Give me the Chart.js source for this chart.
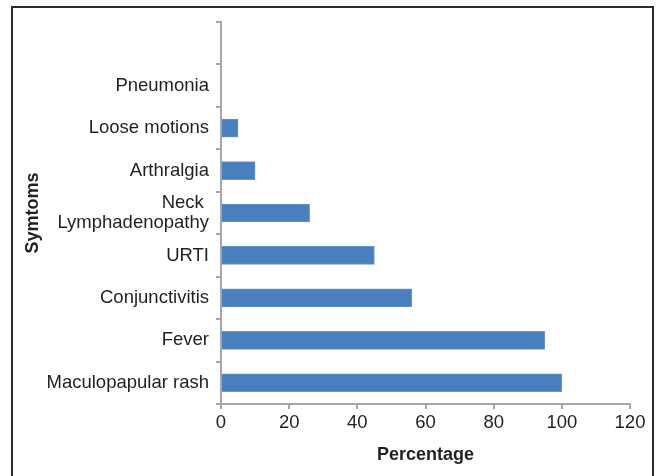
<!DOCTYPE html>
<html>
<head>
<meta charset="utf-8">
<script src="https://cdn.jsdelivr.net/npm/chart.js@4"></script>
<style>
  html, body { margin: 0; padding: 0; background: #fff; }
  #wrap { position: relative; width: 661px; height: 476px; overflow: hidden; }
  #frame { position: absolute; left: 11px; top: 6px; width: 643px; height: 490px; border: 2px solid #2b2b2b; box-sizing: border-box; }
  #myChart { position: absolute; left: 0; top: 0; }
</style>
</head>
<body>
<div id="wrap">
  <div id="frame"></div>
  <canvas id="myChart" width="661" height="476"></canvas>
</div>
<script>
// categories, top to bottom (top slot is left empty as in the figure)
const symptoms = ["", "Pneumonia", "Loose motions", "Arthralgia", ["Neck ", "Lymphadenopathy"], "URTI", "Conjunctivitis", "Fever", "Maculopapular rash"];
// percentage of patients
const percentages = [null, 0, 5, 10, 26, 45, 56, 95, 100];
const xTicks = [0, 20, 40, 60, 80, 100, 120];

const axisGrey = '#a6a6a6';
const textColor = '#231f20';
const fam = "'Liberation Sans', Arial, Helvetica, sans-serif";

new Chart("myChart", {
    type: 'bar',
    data: {
        labels: symptoms,
        datasets: [{
            label: 'Percentage',
            data: percentages,
            backgroundColor: '#4a7fbf',
            borderColor: '#6b97cc',
            borderWidth: 1,
            barThickness: 18
        }]
    },
    options: {
        indexAxis: 'y',
        responsive: false,
        animation: false,
        layout: { padding: { left: 16, top: 22, right: 31, bottom: 0 } },
        plugins: { legend: { display: false }, tooltip: { enabled: false } },
        scales: {
            x: {
                min: 0, max: 120,
                afterBuildTicks: (s) => { s.ticks = xTicks.map(v => ({ value: v })); },
                afterFit: (s) => { s.height = 72; },
                grid: { drawOnChartArea: false, tickLength: 5, color: axisGrey, lineWidth: 2 },
                border: { color: axisGrey, width: 2 },
                ticks: { color: textColor, font: { family: fam, size: 18.5 }, padding: 3, autoSkip: false, maxRotation: 0 },
                title: { display: true, text: 'Percentage', color: textColor,
                         font: { family: fam, size: 18, weight: 'bold' }, padding: { top: 4, bottom: 10 } }
            },
            y: {
                afterFit: (s) => { s.width = 205; },
                grid: { drawOnChartArea: false, tickLength: 5, color: axisGrey, lineWidth: 2, offset: true },
                border: { color: axisGrey, width: 2 },
                ticks: { color: textColor, font: { family: fam, size: 18.5, lineHeight: 1.08 }, padding: 7, autoSkip: false },
                title: { display: true, text: 'Symtoms', color: textColor,
                         font: { family: fam, size: 18, weight: 'bold' }, padding: { top: 6, bottom: 0 } }
            }
        }
    }
});
</script>
</body>
</html>
